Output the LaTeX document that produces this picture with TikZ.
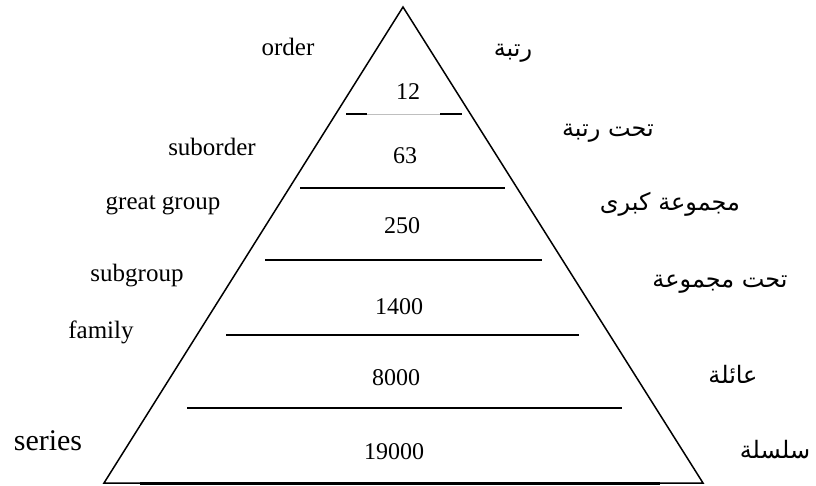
\documentclass[tikz,border=0pt]{standalone}
\usepackage{fontspec}
\setmainfont{Liberation Serif}
\newfontfamily\arabicfont[Script=Arabic]{DejaVu Sans}
\TeXXeTstate=1
\begin{document}
\begin{tikzpicture}[x=1pt,y=-1pt,
  lbl/.style={font=\fontsize{25}{28}\selectfont, inner sep=0pt},
  num/.style={font=\fontsize{24}{28}\selectfont, inner sep=0pt},
  ar/.style={font=\arabicfont\fontsize{24}{28}\selectfont, inner sep=0pt},
  edge/.style={line width=1.5pt},
  tier/.style={line width=1.6pt}]
\useasboundingbox (0,0) rectangle (816,486);
% triangle
\coordinate (apex) at (403,7);
\coordinate (bl) at (104,483);
\coordinate (br) at (703,483);
\draw[edge, line join=miter] (apex) -- (br) -- (bl) -- cycle;
\coordinate (b1) at (140,483.5);
\coordinate (b2) at (660,483.5);
\draw[line width=2.5pt] (b1) -- (b2);
% line under 12
\coordinate (t1a) at (346,114); \coordinate (t1b) at (367,114);
\coordinate (t1c) at (440,114); \coordinate (t1d) at (462,114);
\draw[tier] (t1a) -- (t1b);
\draw[line width=0.6pt, black!25] (t1b) -- (t1c);
\draw[tier] (t1c) -- (t1d);
% other tier lines
\coordinate (t2a) at (300,188); \coordinate (t2b) at (505,188);
\coordinate (t3a) at (265,260); \coordinate (t3b) at (542,260);
\coordinate (t4a) at (226,335); \coordinate (t4b) at (579,335);
\coordinate (t5a) at (187,408); \coordinate (t5b) at (622,408);
\draw[tier] (t2a) -- (t2b);
\draw[tier] (t3a) -- (t3b);
\draw[tier] (t4a) -- (t4b);
\draw[tier] (t5a) -- (t5b);
% numbers
\node[num] (n1) at (408,92) {12};
\node[num] (n2) at (405,156) {63};
\node[num] (n3) at (402,226) {250};
\node[num] (n4) at (399,307) {1400};
\node[num] (n5) at (396,378) {8000};
\node[num] (n6) at (394,452) {19000};
% English labels
\node[lbl] (e1) at (288,47) {order};
\node[lbl] (e2) at (212,147) {suborder};
\node[lbl] (e3) at (163,205) {great group};
\node[lbl] (e4) at (137,276) {subgroup};
\node[lbl] (e5) at (101,332) {family};
\node[lbl, font=\fontsize{30}{34}\selectfont] (e6) at (48,441) {series};
% Arabic labels
\node[ar] (a1) at (513,53) {\beginR رتبة\endR};
\node[ar] (a2) at (608,133) {\beginR تحت رتبة\endR};
\node[ar] (a3) at (670,204) {\beginR مجموعة كبرى\endR};
\node[ar] (a4) at (720,284) {\beginR تحت مجموعة\endR};
\node[ar] (a5) at (733,374) {\beginR عائلة\endR};
\node[ar] (a6) at (775,450) {\beginR سلسلة\endR};
\end{tikzpicture}
\end{document}
